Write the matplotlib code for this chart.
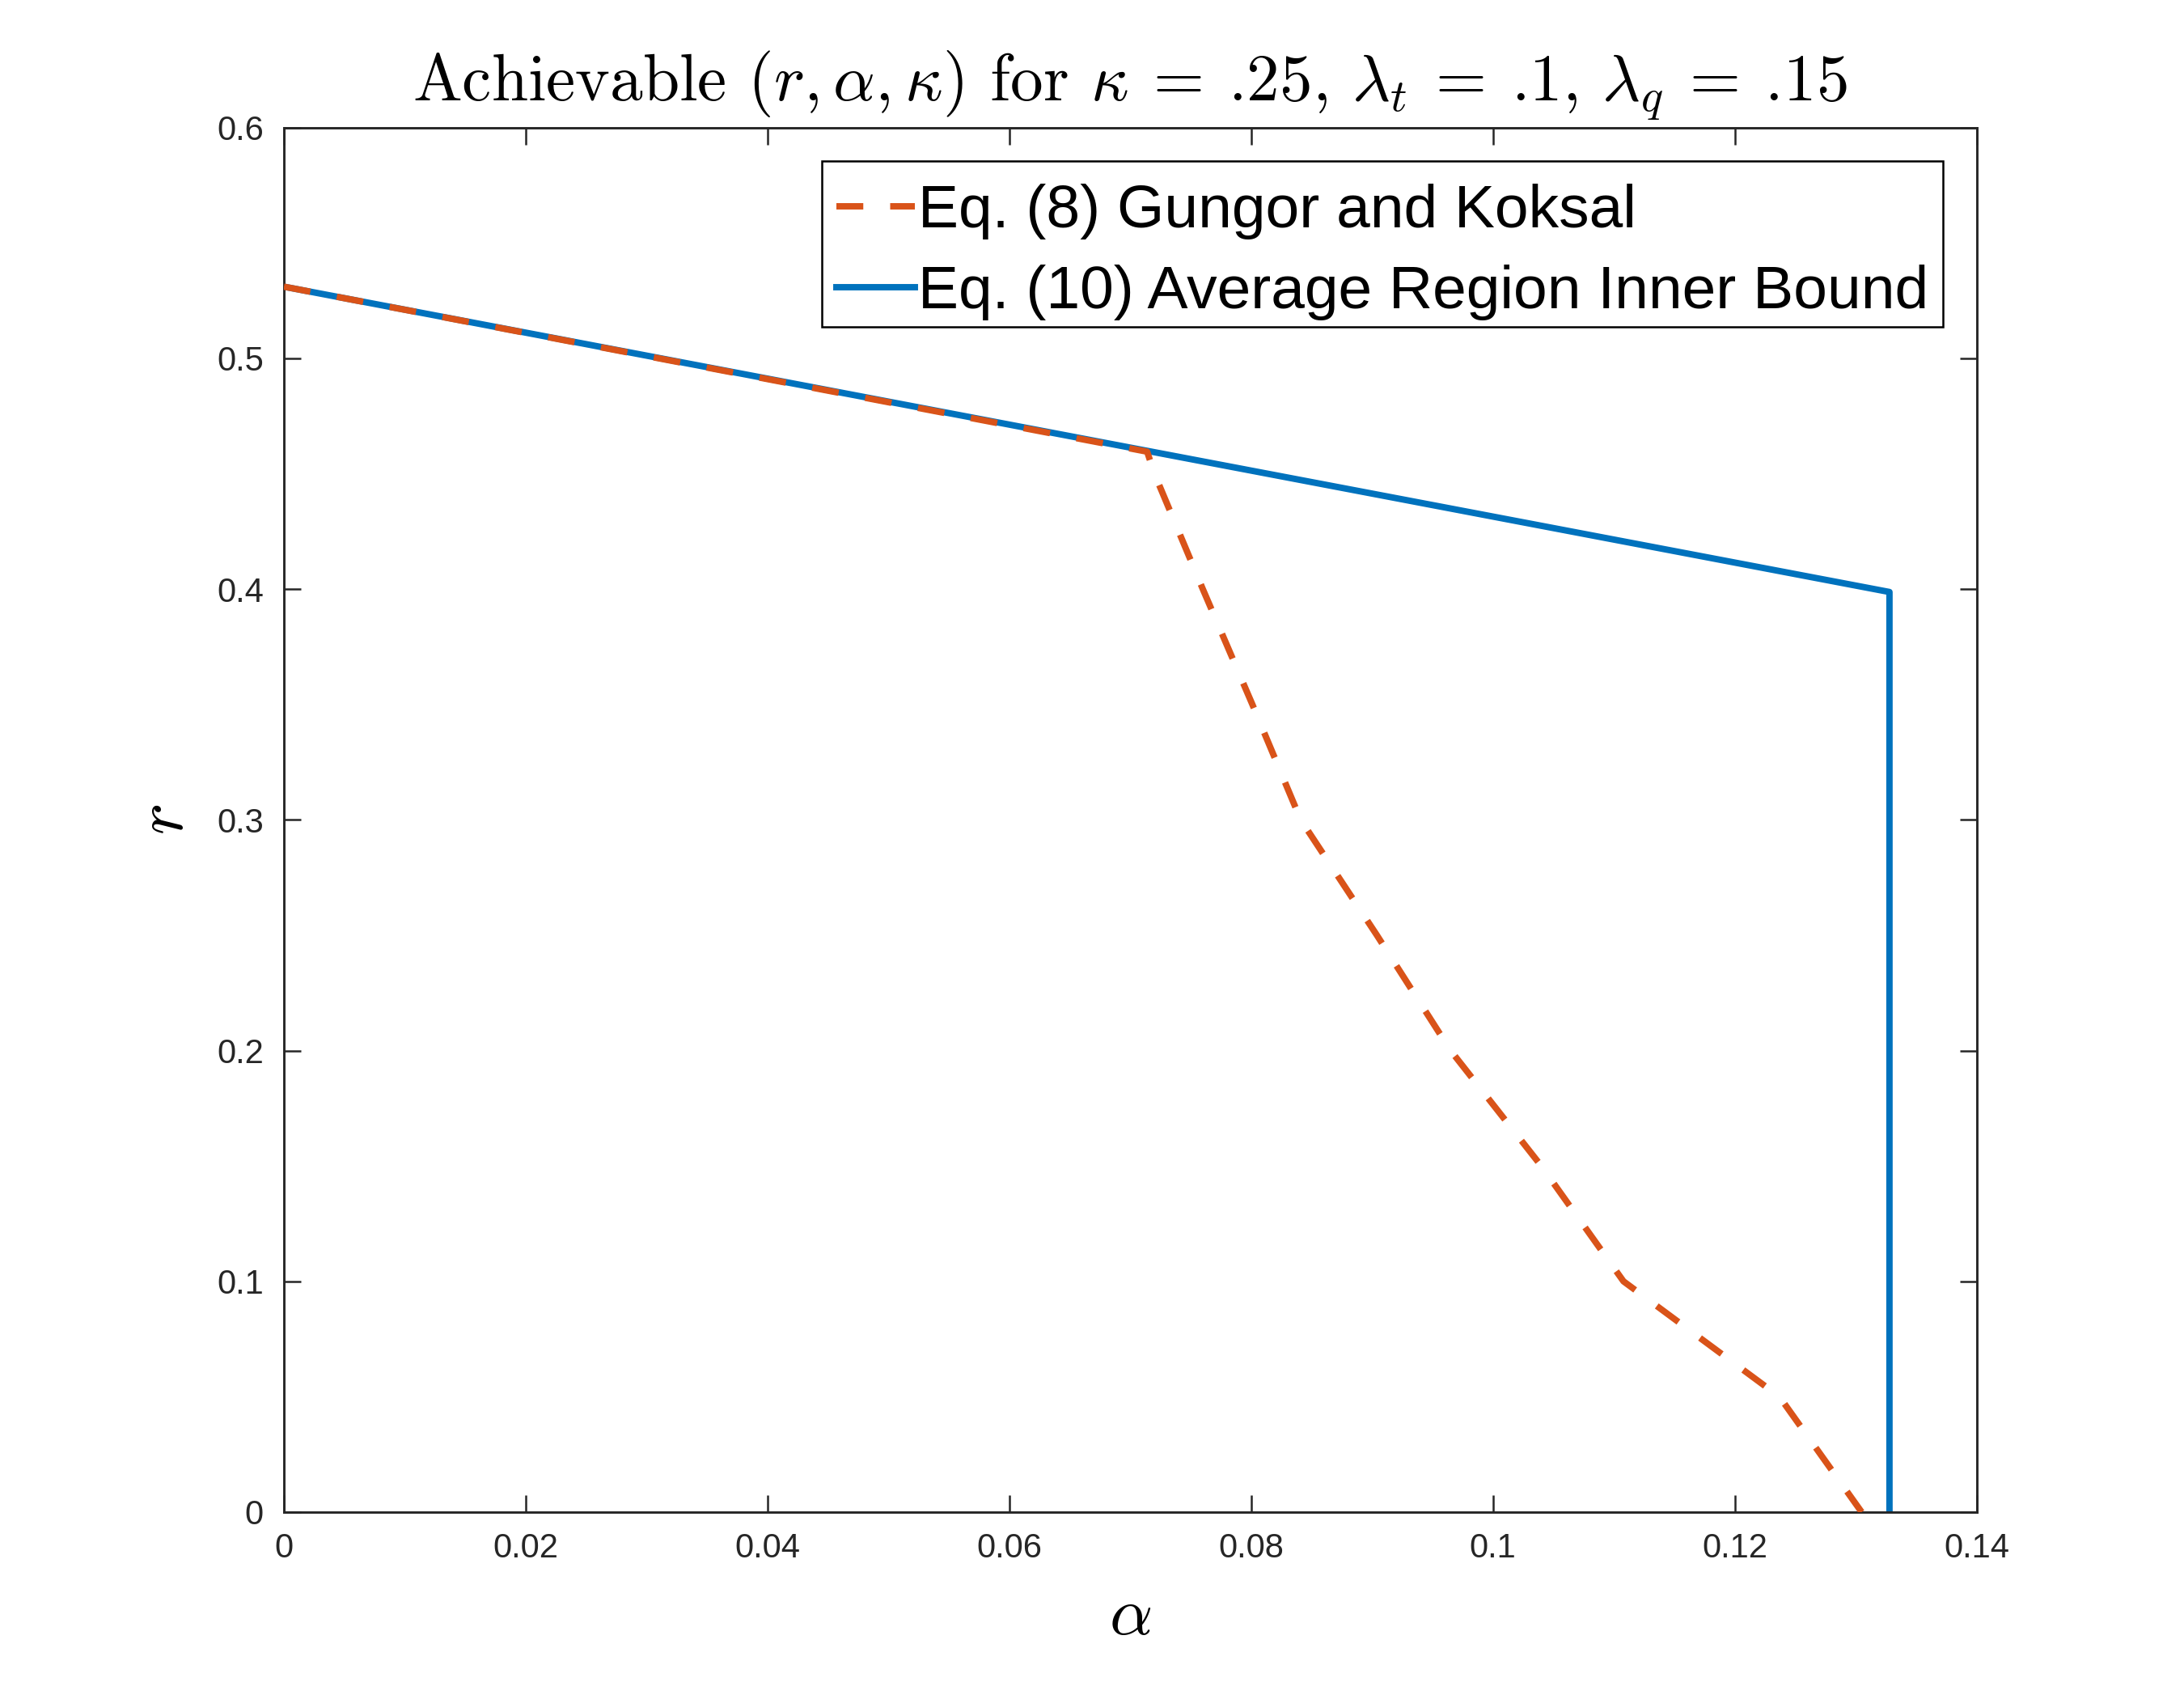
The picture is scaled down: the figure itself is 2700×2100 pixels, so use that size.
import matplotlib
matplotlib.use("Agg")
import matplotlib.pyplot as plt
from matplotlib.transforms import Affine2D

# values
alpha_gk = [0.0, 0.0714, 0.0720, 0.0760, 0.0801, 0.0841, 0.0904, 0.0965, 0.1040, 0.1108, 0.1237, 0.1305]
r_gk = [0.531, 0.4595, 0.45, 0.40, 0.35, 0.30, 0.25, 0.20, 0.15, 0.10, 0.05, 0.0]

alpha_avg = [0.0, 0.1328, 0.1328]
r_avg = [0.531, 0.3987, 0.0]

labels = ["Eq. (8) Gungor and Koksal", "Eq. (10) Average Region Inner Bound"]
x_ticks = [0, 0.02, 0.04, 0.06, 0.08, 0.1, 0.12, 0.14]
x_tick_labels = ["0", "0.02", "0.04", "0.06", "0.08", "0.1", "0.12", "0.14"]
y_ticks = [0, 0.1, 0.2, 0.3, 0.4, 0.5, 0.6]
y_tick_labels = ["0", "0.1", "0.2", "0.3", "0.4", "0.5", "0.6"]

plt.rcParams["font.family"] = ["Liberation Sans", "DejaVu Sans"]
plt.rcParams["mathtext.fontset"] = "cm"

axis_color = "#262626"

fig = plt.figure(figsize=(9, 7), dpi=300)
ax = fig.add_axes([0.13, 0.11, 0.775, 0.815])

# orange dashed drawn over the blue so the shared part alternates colours
ax.plot(alpha_gk, r_gk, color="#D95319", lw=1.9, dashes=(4.2, 4.2), zorder=3, label=labels[0])
ax.plot(alpha_avg, r_avg, color="#0072BD", lw=1.9, zorder=2, label=labels[1])

ax.set_xlim(0, 0.14)
ax.set_ylim(0, 0.6)
ax.set_xticks(x_ticks)
ax.set_xticklabels(x_tick_labels)
ax.set_yticks(y_ticks)
ax.set_yticklabels(y_tick_labels)

ax.tick_params(direction="in", length=5, width=0.6, colors=axis_color,
               labelsize=10, top=True, right=True, pad=6)
for s in ax.spines.values():
    s.set_color(axis_color)
    s.set_linewidth(0.7)

# plain parts in Computer Modern text so ".25" keeps tight decimal spacing
title = (r"Achievable $(r,\alpha,\kappa)$ for $\kappa\:=\:$.25, "
         r"$\lambda_t\:=\:$.1, $\lambda_q\:=\:$.15")
ax.set_title(title, fontsize=19.5, pad=8, family="cmr10")
ax.set_xlabel(r"$\alpha$", fontsize=20, labelpad=6)
ax.set_ylabel(r"$r$", fontsize=20, labelpad=6)

leg = ax.legend(loc="upper right", fontsize=18, handlelength=1.3, handletextpad=0.05,
                borderaxespad=0.55, labelspacing=0.42, borderpad=0.24, fancybox=False,
                framealpha=1)
leg.get_frame().set_edgecolor("black")
leg.get_frame().set_linewidth(0.6)

# entries sit a little lower inside the box in the reference
shift = Affine2D().translate(0, -10)
for t in leg.get_texts():
    t.set_transform(t.get_transform() + shift)
for h in leg.legend_handles:
    h.set_transform(h.get_transform() + shift)

fig.savefig("out.png", dpi=300, facecolor="white")
